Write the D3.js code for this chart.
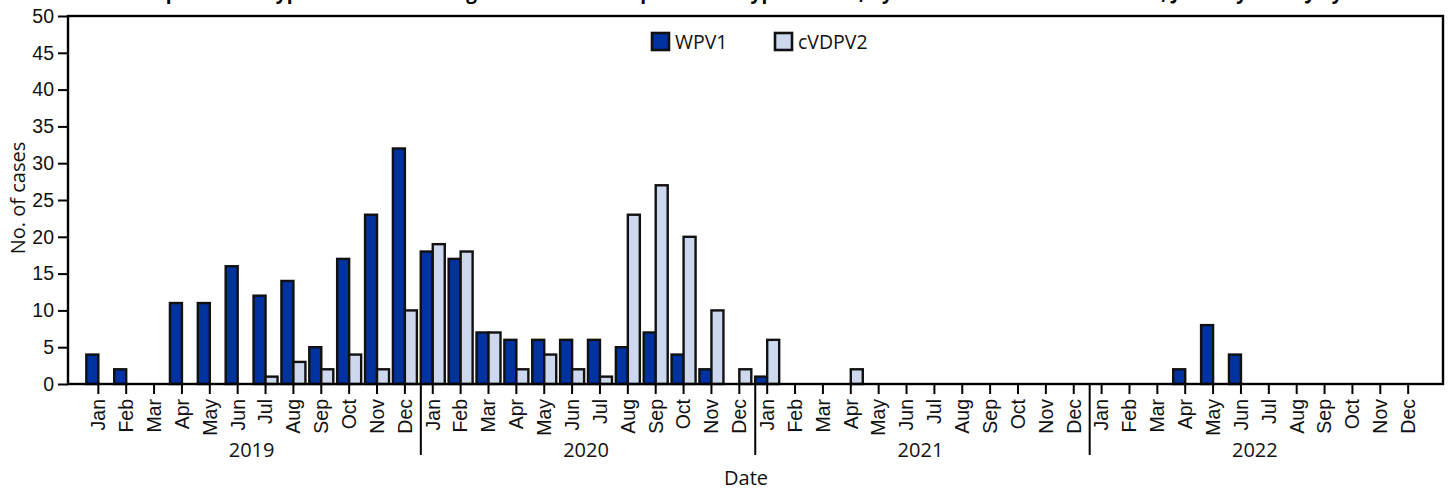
<!DOCTYPE html>
<html>
<head>
<meta charset="utf-8">
<script src="https://cdn.jsdelivr.net/npm/d3@7"></script>
<style>
  html, body { margin: 0; padding: 0; background: #fff; overflow: hidden; }
  svg { display: block; font-family: "Open Sans", "Noto Sans", sans-serif; }
</style>
</head>
<body>
<svg width="1448" height="491"></svg>
<script>
const YEARS = ["2019", "2020", "2021", "2022"];
const MONTHS = ["Jan", "Feb", "Mar", "Apr", "May", "Jun", "Jul", "Aug", "Sep", "Oct", "Nov", "Dec"];
const SERIES = ["WPV1", "cVDPV2"];

// monthly case counts, Jan 2019 .. Dec 2022
const WPV1 = [
  4, 2, 0, 11, 11, 16, 12, 14, 5, 17, 23, 32,
  18, 17, 7, 6, 6, 6, 6, 5, 7, 4, 2, 0,
  1, 0, 0, 0, 0, 0, 0, 0, 0, 0, 0, 0,
  0, 0, 0, 2, 8, 4, 0, 0, 0, 0, 0, 0
];
const CVDPV2 = [
  0, 0, 0, 0, 0, 0, 1, 3, 2, 4, 2, 10,
  19, 18, 7, 2, 4, 2, 1, 23, 27, 20, 10, 2,
  6, 0, 0, 2, 0, 0, 0, 0, 0, 0, 0, 0,
  0, 0, 0, 0, 0, 0, 0, 0, 0, 0, 0, 0
];
const Y_TICKS = [0, 5, 10, 15, 20, 25, 30, 35, 40, 45, 50];

const TITLE = "Number of wild poliovirus type 1 and circulating vaccine-derived poliovirus type 2 cases, by month of onset \u2014 Pakistan, January 2019\u2013July 2022";

const COLORS = { WPV1: "#0033a0", cVDPV2: "#cdd7ee" };

const PLOT = { left: 68, right: 1443, top: 16, bottom: 384 };

// one entry per month
const rows = [];
YEARS.forEach((yr, yi) => {
  MONTHS.forEach((m, mi) => {
    const i = yi * 12 + mi;
    rows.push({ key: yr + "-" + m, year: yr, month: m, WPV1: WPV1[i], cVDPV2: CVDPV2[i] });
  });
});

const svg = d3.select("svg");

const x0 = d3.scaleBand()
  .domain(rows.map(d => d.key))
  .range([84.4, 1422.1])
  .padding(0);

const half = 12;
const x1 = d3.scaleBand()
  .domain(SERIES)
  .range([x0.bandwidth() / 2 - half, x0.bandwidth() / 2 + half])
  .padding(0);

const y = d3.scaleLinear().domain([0, 50]).range([PLOT.bottom, PLOT.top]);

// title (only its lower edge shows at the top of the picture)
svg.append("text")
  .attr("x", 10)
  .attr("y", -1)
  .attr("textLength", 1382)
  .attr("lengthAdjust", "spacing")
  .style("font-weight", "bold")
  .style("font-size", "19px")
  .text(TITLE);

// bars
const groups = svg.append("g").selectAll("g")
  .data(rows)
  .enter()
  .append("g")
  .attr("transform", d => `translate(${x0(d.key)},0)`);

groups.selectAll("rect")
  .data(d => SERIES.map(s => ({ s: s, v: d[s] })).filter(o => o.v > 0))
  .enter()
  .append("rect")
  .attr("x", d => x1(d.s))
  .attr("width", x1.bandwidth())
  .attr("y", d => y(d.v))
  .attr("height", d => y(0) - y(d.v))
  .attr("fill", d => COLORS[d.s])
  .attr("stroke", "#111")
  .attr("stroke-width", 2.4);

// y axis
const yAxis = svg.append("g")
  .attr("transform", `translate(${PLOT.left},0)`)
  .call(d3.axisLeft(y).tickValues(Y_TICKS).tickSize(10).tickPadding(4).tickSizeOuter(0));
yAxis.select(".domain").remove();
yAxis.selectAll("line").attr("stroke", "#000").attr("stroke-width", 2);
yAxis.selectAll("text").style("font-size", "19.5px").attr("fill", "#111").attr("font-family", null);

// frame
svg.append("rect")
  .attr("x", PLOT.left)
  .attr("y", PLOT.top)
  .attr("width", PLOT.right - PLOT.left)
  .attr("height", PLOT.bottom - PLOT.top)
  .attr("fill", "none")
  .attr("stroke", "#000")
  .attr("stroke-width", 2.4);

// x axis: month ticks
const xAxis = svg.append("g")
  .attr("transform", `translate(0,${PLOT.bottom})`)
  .call(d3.axisBottom(x0).tickSize(10).tickSizeOuter(0).tickFormat(k => k.split("-")[1]));
xAxis.select(".domain").remove();
xAxis.selectAll("line").attr("stroke", "#000").attr("stroke-width", 2);
xAxis.selectAll("text")
  .attr("font-family", null)
  .style("font-size", "19.5px")
  .attr("fill", "#111")
  .attr("text-anchor", "end")
  .attr("transform", "rotate(-90)")
  .attr("x", -15)
  .attr("y", 0)
  .attr("dy", "0.35em");

// year separators and labels
YEARS.forEach((yr, yi) => {
  const first = x0(yr + "-Jan") + x0.bandwidth() / 2;
  const last = x0(yr + "-Dec") + x0.bandwidth() / 2;
  svg.append("text")
    .attr("x", (first + last) / 2)
    .attr("y", 457)
    .attr("text-anchor", "middle")
    .style("font-size", "20px")
    .attr("fill", "#111")
    .text(yr);
  if (yi > 0) {
    const sx = x0(yr + "-Jan") + 2;
    svg.append("line")
      .attr("x1", sx).attr("x2", sx)
      .attr("y1", PLOT.bottom).attr("y2", 455)
      .attr("stroke", "#000")
      .attr("stroke-width", 2);
  }
});

// axis titles
svg.append("text")
  .attr("x", 746)
  .attr("y", 485)
  .attr("text-anchor", "middle")
  .style("font-size", "20px")
  .attr("fill", "#111")
  .text("Date");

svg.append("text")
  .attr("transform", "translate(25,198) rotate(-90)")
  .attr("text-anchor", "middle")
  .style("font-size", "20px")
  .attr("fill", "#111")
  .text("No. of cases");

// legend
const legend = svg.append("g");
const LEGEND_X = [652, 775];
SERIES.forEach((s, i) => {
  legend.append("rect")
    .attr("x", LEGEND_X[i])
    .attr("y", 33)
    .attr("width", 17)
    .attr("height", 17)
    .attr("fill", COLORS[s])
    .attr("stroke", "#111")
    .attr("stroke-width", 2.6);
  legend.append("text")
    .attr("x", LEGEND_X[i] + 23)
    .attr("y", 49)
    .style("font-size", "19.5px")
    .attr("fill", "#111")
    .text(s);
});
</script>
</body>
</html>
